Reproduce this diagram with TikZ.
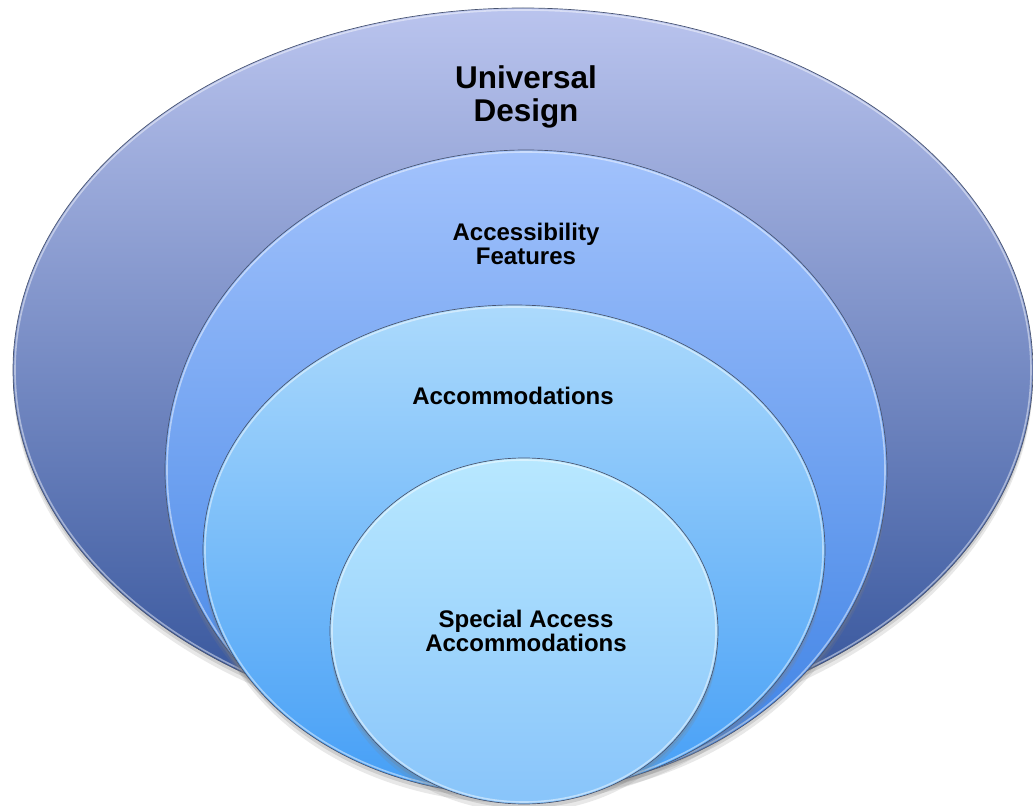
\documentclass[tikz,border=0pt]{standalone}
\usepackage{fontspec}
\setmainfont{Liberation Sans}
\usetikzlibrary{shadows}

\definecolor{ringOneTop}{RGB}{186,196,238}
\definecolor{ringOneBot}{RGB}{48,80,152}
\definecolor{ringTwoTop}{RGB}{162,194,252}
\definecolor{ringTwoBot}{RGB}{58,128,228}
\definecolor{ringThreeTop}{RGB}{172,218,252}
\definecolor{ringThreeBot}{RGB}{68,158,246}
\definecolor{ringFourTop}{RGB}{184,232,255}
\definecolor{ringFourBot}{RGB}{136,196,250}
\definecolor{ringEdge}{RGB}{72,84,112}

\tikzset{every picture/.style={line width=0.75pt}}
\tikzset{
	ring/.style={draw=ringEdge, line width=0.5pt,
		drop shadow={opacity=0.18, shadow xshift=0pt, shadow yshift=-6pt},
		drop shadow={opacity=0.25, shadow xshift=0pt, shadow yshift=-3pt}},
	ringlight/.style={draw=white, draw opacity=0.45, line width=1.2pt},
	ringlabel/.style={font=\bfseries\fontsize{18}{18}\selectfont, align=center, text=black, inner sep=0pt},
	biglabel/.style={font=\bfseries\fontsize{23.6}{25}\selectfont, align=center, text=black, inner sep=0pt}}

\begin{document}
\begin{tikzpicture}[x=0.75pt,y=0.75pt,yscale=-1,xscale=1]
	\useasboundingbox (0,0) rectangle (1033,806);
	\clip (0,0) rectangle (1033,806);

	%Shape: Ellipse [outer]
	\path [ring, top color=ringOneTop, bottom color=ringOneBot] (523,370) ellipse [x radius=510, y radius=362];
	\draw [ringlight] (523,370) ellipse [x radius=508, y radius=360];
	%Shape: Ellipse [second]
	\path [ring, top color=ringTwoTop, bottom color=ringTwoBot] (526,470) ellipse [x radius=361, y radius=320];
	\draw [ringlight] (526,470) ellipse [x radius=359, y radius=318];
	%Shape: Ellipse [third]
	\path [ring, top color=ringThreeTop, bottom color=ringThreeBot] (514,550) ellipse [x radius=311, y radius=245];
	\draw [ringlight] (514,550) ellipse [x radius=309, y radius=243];
	%Shape: Ellipse [inner]
	\path [ring, top color=ringFourTop, bottom color=ringFourBot] (524,631) ellipse [x radius=194, y radius=173];
	\draw [ringlight] (524,631) ellipse [x radius=192, y radius=171];

	% Text Node
	\node [biglabel] (universal) at (526,97) {Universal\\Design};
	% Text Node
	\node [ringlabel] (features) at (526,244) {Accessibility\\Features};
	% Text Node
	\node [ringlabel] (accommodations) at (513,396) {Accommodations};
	% Text Node
	\node [ringlabel] (special) at (526,631) {Special Access\\Accommodations};

\end{tikzpicture}
\end{document}
